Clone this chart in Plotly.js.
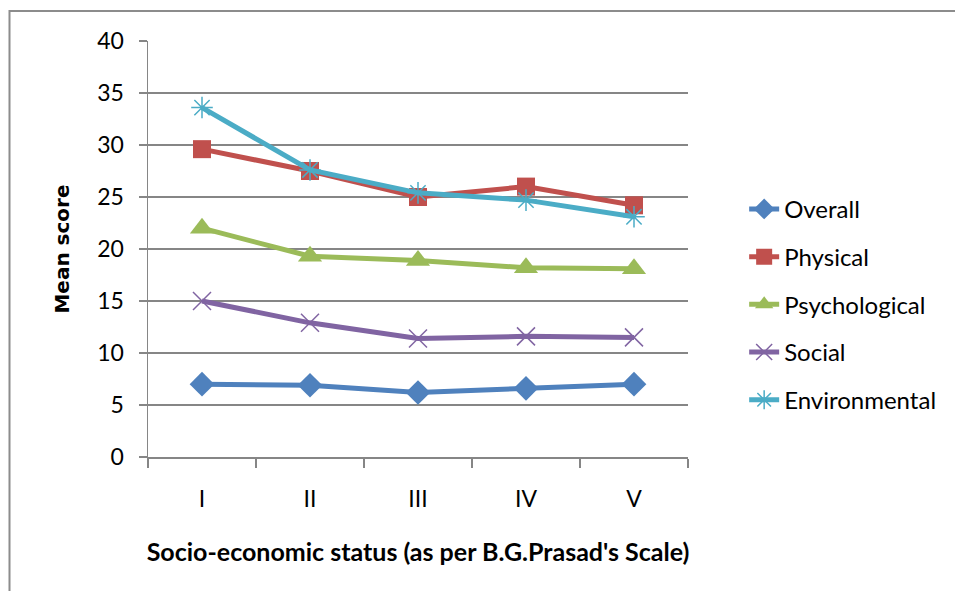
<!DOCTYPE html>
<html>
<head>
<meta charset="utf-8">
<script src="https://cdn.plot.ly/plotly-3.0.1.min.js"></script>
<style>
html,body{margin:0;padding:0;background:#fff;}
#chart{width:955px;height:591px;}
</style>
</head>
<body>
<div id="chart"></div>
<script>
const categories = ['I', 'II', 'III', 'IV', 'V'];
const overall = [7.0, 6.9, 6.2, 6.6, 7.0];
const physical = [29.6, 27.5, 25.0, 26.0, 24.2];
const psychological = [22.0, 19.3, 18.9, 18.2, 18.1];
const social = [15.0, 12.9, 11.4, 11.6, 11.5];
const environmental = [33.6, 27.6, 25.4, 24.7, 23.1];
const yTicks = [0, 5, 10, 15, 20, 25, 30, 35, 40];

const FONT = 'Lato, "Liberation Sans", sans-serif';

function series(name, y, color, symbol, size, open) {
  return {
    type: 'scatter', mode: 'lines+markers', name: name, legendgroup: name,
    x: categories, y: y,
    line: {color: color, width: 5},
    marker: open
      ? {symbol: symbol, size: size, color: color, line: {color: color, width: 1.5}}
      : {symbol: symbol, size: size, color: color, line: {width: 0}}
  };
}

const data = [
  series('Overall', overall, '#4F81BD', 'diamond', 19, false),
  series('Physical', physical, '#C0504D', 'square', 18, false),
  series('Psychological', psychological, '#9BBB59', 'triangle-up', 21, false),
  series('Social', social, '#8064A2', 'x-thin-open', 18, true),
  series('Environmental', environmental, '#4BACC6', 'asterisk-open', 18, true)
];

const grid = '#868686';
const layout = {
  width: 955, height: 591,
  margin: {l: 148, r: 267, t: 41, b: 134},
  paper_bgcolor: '#ffffff', plot_bgcolor: '#ffffff',
  font: {family: FONT, size: 23, color: '#000'},
  showlegend: true,
  legend: {
    x: 1.104, xanchor: 'left', y: 0.367, yanchor: 'middle',
    font: {family: FONT, size: 24, color: '#000'},
    tracegroupgap: 13.5, bgcolor: 'rgba(0,0,0,0)'
  },
  xaxis: {
    type: 'category', range: [-0.5, 4.5],
    tickson: 'boundaries', ticks: 'outside', ticklen: 9, tickwidth: 1.5, tickcolor: grid,
    ticklabelstandoff: 21,
    showline: true, linecolor: grid, linewidth: 1.5,
    showgrid: false, zeroline: false,
    tickfont: {family: FONT, size: 23, color: '#000'},
    title: {text: "Socio-economic status (as per B.G.Prasad's Scale)", font: {family: FONT, size: 25, color: '#000', weight: 'bold'}, standoff: 32}
  },
  yaxis: {
    range: [0, 40], tickvals: yTicks, ticktext: yTicks.map(String),
    ticks: 'outside', ticklen: 8, tickwidth: 1.5, tickcolor: grid,
    ticklabelstandoff: 10,
    showline: true, linecolor: grid, linewidth: 1.5,
    showgrid: true, gridcolor: grid, gridwidth: 1.5,
    zeroline: false,
    tickfont: {family: FONT, size: 23, color: '#000'},
    title: {text: 'Mean score', font: {family: '"DejaVu Sans", Verdana, sans-serif', size: 20, color: '#000', weight: 'bold'}, standoff: 22}
  },
  shapes: [{
    type: 'rect', xref: 'paper', yref: 'paper',
    x0: (9.5 - 148) / 540, x1: (970 - 148) / 540,
    y0: (457 - 620) / 416, y1: 1 + (41 - 11) / 416,
    line: {color: '#8c8c8c', width: 2}, fillcolor: 'rgba(0,0,0,0)', layer: 'below'
  }]
};

Plotly.newPlot('chart', data, layout, {displayModeBar: false, staticPlot: true});
</script>
</body>
</html>
